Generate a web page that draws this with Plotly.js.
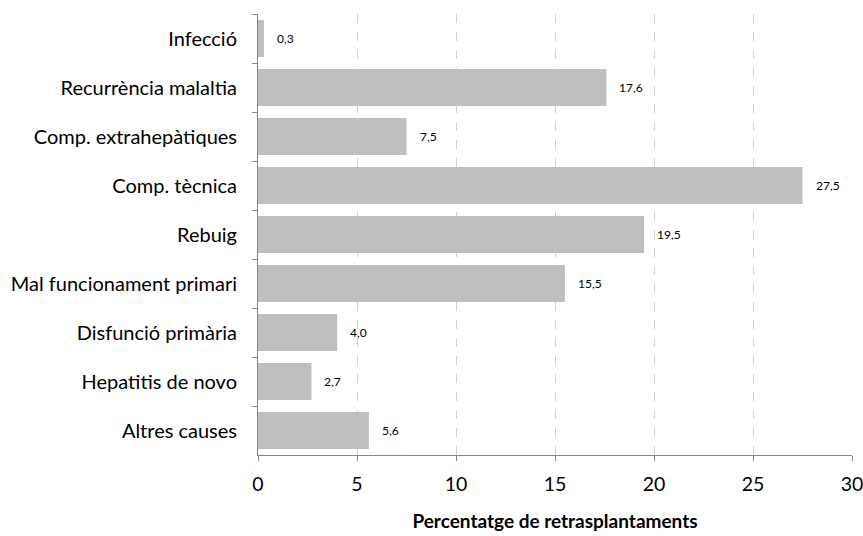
<!DOCTYPE html>
<html><head><meta charset="utf-8">
<script src="https://cdn.plot.ly/plotly-3.0.1.min.js"></script>
<style>body{margin:0;background:#fff}#c{width:863px;height:536px}</style>
</head><body><div id="c"></div>
<script>
const categories = ["Infecció","Recurrència malaltia","Comp. extrahepàtiques","Comp. tècnica","Rebuig","Mal funcionament primari","Disfunció primària","Hepatitis de novo","Altres causes"];
const values = [0.3,17.6,7.5,27.5,19.5,15.5,4.0,2.7,5.6];
const xTicks = [0,5,10,15,20,25,30];

const font = "Lato, sans-serif";
const trace = {
  type:'bar', orientation:'h', x:values, y:categories,
  marker:{color:'#bfbfbf'}, width:0.76, hoverinfo:'none'
};
const annotations = values.map((v,i)=>({
  x:v, y:categories[i], xref:'x', yref:'y', text:v.toFixed(1).replace('.',','),
  showarrow:false, xanchor:'left', xshift:11, font:{family:font,size:12,color:'#000'}
}));
const layout = {
  width:863, height:536, paper_bgcolor:'#fff', plot_bgcolor:'#fff',
  margin:{l:258,r:11,t:14,b:81},
  showlegend:false,
  xaxis:{range:[0,30], tickvals:xTicks, ticktext:xTicks.map(String),
    showgrid:true, gridcolor:'#d0d0d0', griddash:'dash', gridwidth:1,
    zeroline:false, showline:true, linecolor:'#868686', linewidth:1,
    ticks:'outside', ticklen:5, tickcolor:'#868686', ticklabeloverflow:'allow',
    tickfont:{family:font,size:19.5,color:'#000'}, ticklabelstandoff:7,
    title:{text:'<b>Percentatge de retrasplantaments</b>', font:{family:font,size:19,color:'#000'}, standoff:20}},
  yaxis:{type:'category', autorange:'reversed', showgrid:false, zeroline:false,
    showline:true, linecolor:'#868686', linewidth:1,
    ticks:'outside', ticklen:5, tickcolor:'#868686', tickson:'boundaries',
    tickfont:{family:font,size:20,color:'#000'}, ticklabelstandoff:16},
  annotations:annotations
};
Plotly.newPlot('c',[trace],layout,{staticPlot:true});
</script></body></html>
